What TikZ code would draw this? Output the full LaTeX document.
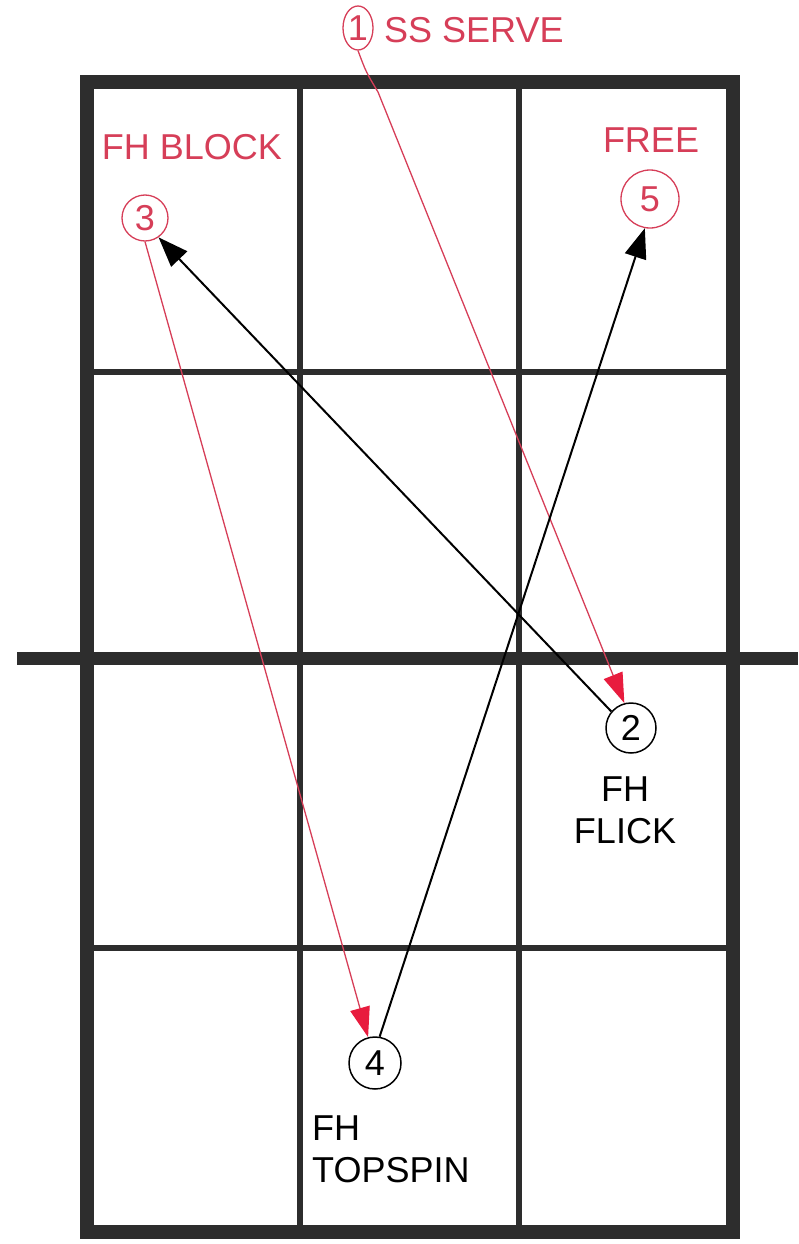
\documentclass[tikz,border=0pt]{standalone}
\usepackage{fontspec}
\setmainfont{Liberation Sans}
\usetikzlibrary{arrows.meta,shapes.geometric}

\definecolor{pen}{RGB}{214,62,88}
\definecolor{tip}{RGB}{232,28,62}
\definecolor{court}{RGB}{45,45,45}

\begin{document}
\begin{tikzpicture}[
                x=1pt, y=-1pt,
                every node/.style={
                        inner sep=0pt,
                        align=center,
                        font=\fontsize{36}{42}\selectfont
                    },
                redball/.style={draw=pen, text=pen, line width=1.3pt, circle},
                blackball/.style={draw=black, line width=1.5pt, circle},
                redlabel/.style={text=pen},
                redshot/.style={draw=pen, line width=1.3pt,
                        -{Triangle[length=30pt, width=20pt, color=tip]}},
                blackshot/.style={draw=black, line width=2pt,
                        -{Triangle[length=30pt, width=22pt]}},
                outline/.style={draw=court, line width=14pt},
                divider/.style={draw=court, line width=6pt}
            ]

            \useasboundingbox (0, 0) rectangle (798, 1244);

            % Court
            \draw[divider] (300, 82) -- (300, 1232);
            \draw[divider] (519, 82) -- (519, 1232);
            \draw[divider] (87, 372) -- (733, 372);
            \draw[divider] (87, 948) -- (733, 948);
            \draw[outline] (87, 82) rectangle (733, 1232);
            % Net
            \draw[draw=court, line width=13pt] (17, 658) -- (798, 658);

            \node[ellipse, draw=pen, text=pen, line width=1.3pt,
                minimum width=30pt, minimum height=44pt] (serve) at (358, 28) {1};
            \node[redlabel, anchor=west] (servetext) at (384, 30) {SS SERVE};

            \node[blackball, minimum size=50pt] (flick) at (631, 728) {2};
            \node (flicktext) at (625, 810) {FH\\FLICK};

            \node[redball, minimum size=46pt] (block) at (145, 218) {3};
            \node[redlabel] (blocktext) at (192, 147) {FH BLOCK};

            \node[blackball, minimum size=52pt] (topspin) at (375, 1063) {4};
            \node[anchor=north west, align=left] (topspintext) at (312, 1116) {FH\\TOPSPIN};

            \node[redball, minimum size=58pt] (free) at (650, 199) {5};
            \node[redlabel] (freetext) at (651, 140) {FREE};

            % Shots
            \draw[redshot] (serve.south) .. controls (366, 72) .. (378, 92) -- (flick.105);
            \draw[blackshot] (flick.140) -- (block.-55);
            \draw[redshot] (block.south) -- (topspin.105);
            \draw[blackshot] (topspin.80) -- (free.-100);

        \end{tikzpicture}
\end{document}
